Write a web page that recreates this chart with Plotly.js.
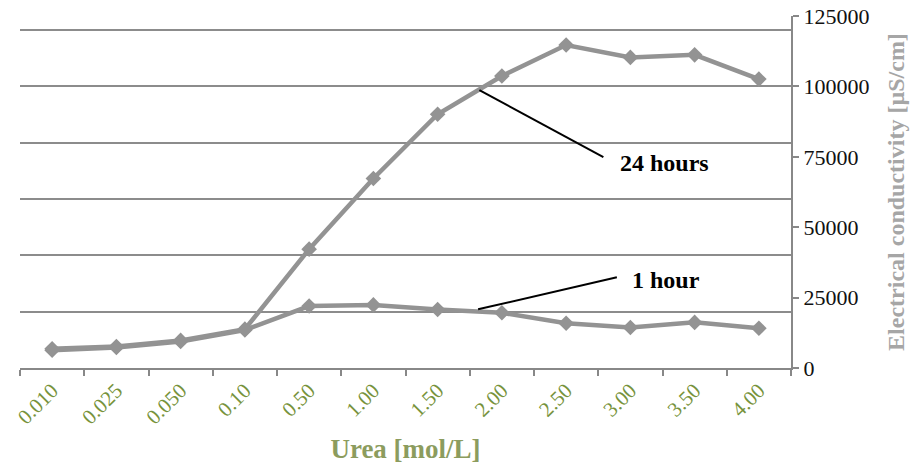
<!DOCTYPE html>
<html>
<head>
<meta charset="utf-8">
<script src="https://cdn.plot.ly/plotly-3.0.1.min.js"></script>
<style>html,body{margin:0;padding:0;background:#fff;}#chart{width:913px;height:466px;}</style>
</head>
<body>
<div id="chart"></div>
<script>
const categories = ["0.010","0.025","0.050","0.10","0.50","1.00","1.50","2.00","2.50","3.00","3.50","4.00"];
const oneHour = [6300,7300,9400,13500,22000,22400,20800,19600,15900,14400,16200,14100];
const twentyFourHours = [6800,7600,9800,13800,42200,67300,90100,103700,114700,110300,111200,102600];

const lineColor = "#939393";
const serif = "Liberation Serif, Times New Roman, serif";

const traces = [
  {x: categories, y: oneHour, name: "1 hour", type: "scatter", mode: "lines+markers",
   line: {color: lineColor, width: 4.5}, marker: {symbol: "diamond", size: 12, color: lineColor}},
  {x: categories, y: twentyFourHours, name: "24 hours", type: "scatter", mode: "lines+markers",
   line: {color: lineColor, width: 4.5}, marker: {symbol: "diamond", size: 12, color: lineColor}},
  {x: categories, y: twentyFourHours, yaxis: "y2", type: "scatter", mode: "none", hoverinfo: "skip", showlegend: false}
];

const layout = {
  width: 913, height: 466,
  margin: {l: 20, r: 122, t: 16, b: 98},
  paper_bgcolor: "#ffffff", plot_bgcolor: "#ffffff",
  showlegend: false,
  font: {family: serif},
  xaxis: {
    type: "category", range: [-0.5, 11.5], tickson: "boundaries",
    ticks: "outside", ticklen: 6, tickwidth: 2, tickcolor: "#888888",
    showline: true, linecolor: "#888888", linewidth: 2,
    showgrid: false, zeroline: false, tickangle: -45,
    tickfont: {family: serif, size: 21, color: "#77933C"},
    title: {text: "<b>Urea [mol/L]</b>", font: {family: serif, size: 27, color: "#8C9C5E"}, standoff: 11}
  },
  yaxis: {
    range: [0, 125000], dtick: 20000, showgrid: true, gridcolor: "#8c8c8c", gridwidth: 2,
    showticklabels: false, ticks: "", zeroline: false, showline: false, fixedrange: true
  },
  yaxis2: {
    overlaying: "y", side: "right", range: [0, 125000], dtick: 25000, tickformat: "d",
    showgrid: false, zeroline: false, showline: true, linecolor: "#888888", linewidth: 2,
    ticks: "outside", ticklen: 6, tickwidth: 2, tickcolor: "#888888",
    tickfont: {family: serif, size: 22, color: "#111111"},
    title: {text: "<b>Electrical conductivity [µS/cm]</b>", font: {family: serif, size: 24, color: "#A6A6A6"}, standoff: 19}
  },
  shapes: [
    {type: "line", xref: "x", yref: "y", x0: 6.65, y0: 98700, x1: 8.58, y1: 74900, line: {color: "#000000", width: 2}},
    {type: "line", xref: "x", yref: "y", x0: 6.63, y0: 20850, x1: 8.79, y1: 32200, line: {color: "#000000", width: 2}}
  ],
  annotations: [
    {xref: "x", yref: "y", x: 9.53, y: 72700, text: "<b>24 hours</b>", showarrow: false,
     font: {family: serif, size: 24, color: "#000000"}},
    {xref: "x", yref: "y", x: 9.56, y: 31200, text: "<b>1 hour</b>", showarrow: false,
     font: {family: serif, size: 24, color: "#000000"}}
  ]
};

Plotly.newPlot("chart", traces, layout, {displayModeBar: false, staticPlot: true});
</script>
</body>
</html>
